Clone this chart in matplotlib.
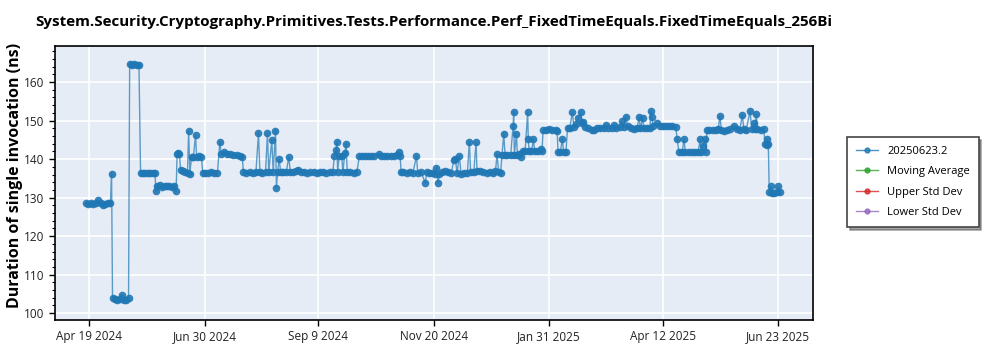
import numpy as np
import pandas as pd
import matplotlib
matplotlib.use("Agg")
import matplotlib.pyplot as plt
from matplotlib.ticker import MultipleLocator

# run dates as day offsets from the first tick date, and the measured durations (ns)
start_date = "2024-04-19"
day_offsets = [
    -1.8, -0.5, 1, 2.5, 4, 5.6, 7, 8.7, 10, 11.5, 13.2, 13.9,
    14.5, 16, 17.5, 19, 20.2, 21.5, 23, 24.5,
    25.2, 26.5, 28, 29.5, 31,
    32, 33.5, 35, 36.5, 38, 39.5, 41,
    41.6, 42.5, 44, 45.5, 47, 48.5, 50, 51.5, 53, 54.2,
    54.8, 55.5, 56.3, 57, 58.5, 60, 61.3, 62, 62.8,
    63.8, 65, 66.3, 67, 68.5, 70,
    70.8, 72, 74, 76, 78, 80, 81.5,
    82.3, 84.2, 86, 88, 90, 92, 94, 95.5,
    96.2, 98, 100, 102, 104, 105.6, 106.5, 108, 110, 111.2, 112, 113.9, 114.8,
    116.2, 116.8, 117.5, 118.5, 119.5, 121, 123, 124.5, 125.5, 127, 129, 130.4,
    132, 134, 136, 138, 140, 142, 144, 146, 148, 150, 152,
    153, 154, 154.5, 155, 156, 157.5, 158.3, 159.5, 160.3, 161, 163, 165, 167,
    168.6, 170, 172, 174, 176, 178, 180.7, 182, 184, 186, 188, 190, 192, 193.2, 194,
    194.6, 196, 198, 200, 202, 204.2, 205, 207, 209.8, 210.5, 212, 214, 215.5,
    216.7, 217.7, 218.5, 220, 222, 224, 226, 227.5, 228.5, 229.5, 231, 232,
    234, 236, 237.2, 238, 240, 241.4, 242, 244, 246, 248, 250, 252, 253.5,
    254.5, 255.5, 256.7,
    257.6, 258.7, 259.5, 261, 263, 264.5, 264.9, 265.3, 266.6, 267.2, 268.5, 269.5,
    270.5, 272, 273.6, 274, 274.5, 276, 277.2, 278, 280, 281.9, 282.6,
    283.2, 285, 287, 289, 291, 292,
    292.6, 294, 295.3, 296, 297.5,
    298.5, 300, 301.5, 302.5, 304, 305.3, 306.7, 307.5, 308.4, 309.5, 311,
    313.6, 315, 317, 319, 321, 322.5, 324, 326, 327.5, 329, 331, 332.3, 333.5,
    334.8, 336, 338, 340, 342, 343.1, 344, 345.4, 346, 348, 350, 350.4, 351,
    352, 354.1, 356, 358, 360, 362, 364, 366,
    367, 368, 370, 371.2, 372, 374, 376, 378, 380, 381.2, 382, 383.2, 384.3, 385,
    385.5, 387, 389, 391, 392.5, 393.6, 394.5, 396, 398, 400, 402.4, 404, 406,
    407.6, 408.5, 410, 412.4, 413.5, 414.8, 415.5, 416.3, 417, 419, 421,
    421.8, 423, 423.2, 423.8,
    424.4, 425.3, 426, 427.5, 429, 430, 431,
]
durations = [
    128.5, 128.4, 128.5, 128.4, 128.6, 129.3, 128.5, 128.1, 128.4, 128.5, 128.6, 136.2,
    104.0, 103.6, 103.4, 103.8, 104.8, 103.3, 103.5, 103.9,
    164.8, 164.5, 164.6, 164.4, 164.5,
    136.4, 136.5, 136.4, 136.3, 136.4, 136.4, 136.5,
    131.6, 133.0, 133.3, 132.8, 133.1, 132.9, 132.9, 132.8, 132.9, 131.6,
    141.3, 141.5, 141.2, 137.1, 136.9, 136.7, 136.4, 147.4, 136.2,
    140.6, 140.6, 146.2, 140.6, 140.7, 140.5,
    136.5, 136.4, 136.4, 136.6, 136.4, 136.5, 144.5,
    141.2, 141.9, 141.4, 141.2, 141.1, 141.0, 140.8, 140.5,
    136.6, 136.5, 136.6, 136.5, 136.6, 146.7, 136.6, 136.5, 136.6, 146.7, 136.6, 144.9, 136.6,
    147.4, 132.6, 136.6, 139.9, 136.6, 136.6, 136.7, 140.6, 136.6, 136.6, 136.8, 137.3,
    136.6, 136.6, 136.5, 136.6, 136.6, 136.5, 136.6, 136.6, 136.5, 136.6, 136.6,
    140.9, 142.3, 144.5, 136.6, 140.9, 140.9, 136.6, 141.6, 144.0, 136.6, 136.6, 136.5, 136.6,
    140.9, 140.9, 140.8, 140.9, 140.9, 140.8, 141.3, 140.9, 140.8, 140.9, 140.9, 140.8, 141.0, 141.9, 140.9,
    136.7, 136.6, 136.3, 136.7, 136.5, 140.7, 136.5, 136.6, 133.8, 136.6, 136.5, 136.3, 136.2,
    137.8, 133.8, 136.2, 136.6, 136.8, 136.7, 136.4, 139.8, 140.1, 136.4, 140.9, 136.2,
    136.3, 136.5, 144.4, 136.6, 136.7, 144.4, 136.8, 136.8, 136.6, 136.5, 136.6, 136.4, 136.8,
    141.3, 136.6, 136.4,
    141.0, 146.6, 141.0, 141.0, 141.1, 148.5, 152.3, 141.0, 146.4, 141.0, 141.2, 140.6,
    142.0, 142.0, 152.1, 145.1, 142.0, 142.0, 145.1, 142.0, 142.1, 142.6, 142.0,
    147.6, 147.6, 147.7, 147.6, 147.6, 147.2,
    141.8, 141.8, 145.3, 141.8, 141.8,
    148.2, 148.2, 152.2, 148.3, 149.0, 150.7, 152.2, 149.5, 149.6, 148.3, 148.0,
    147.6, 147.6, 148.0, 148.2, 148.2, 148.9, 148.0, 148.2, 148.9, 148.1, 148.3, 149.8, 148.4,
    151.0, 148.6, 148.2, 147.8, 148.0, 151.0, 148.0, 150.7, 148.0, 148.1, 148.2, 152.4, 150.9,
    148.6, 149.3, 148.7, 148.6, 148.6, 148.5, 148.6, 148.4,
    145.1, 141.8, 141.8, 145.1, 141.8, 141.8, 141.8, 141.8, 141.8, 145.1, 141.8, 143.5, 145.1, 141.8,
    147.6, 147.6, 147.5, 147.6, 147.7, 151.2, 147.6, 147.4, 147.6, 147.7, 148.7, 147.8, 147.6,
    151.4, 147.8, 147.6, 152.4, 147.8, 149.3, 147.8, 151.7, 147.8, 147.6, 147.7,
    143.8, 143.6, 145.1, 143.8,
    131.4, 132.9, 131.3, 131.3, 131.4, 132.9, 131.5,
]
tick_labels = ["Apr 19 2024", "Jun 30 2024", "Sep 9 2024", "Nov 20 2024",
               "Jan 31 2025", "Apr 12 2025", "Jun 23 2025"]
series_names = ["20250623.2", "Moving Average", "Upper Std Dev", "Lower Std Dev"]
series_colors = ["#1f77b4", "#2ca02c", "#d62728", "#9467bd"]

title = "System.Security.Cryptography.Primitives.Tests.Performance.Perf_FixedTimeEquals.FixedTimeEquals_256Bi"

plt.rcParams["font.family"] = ["Open Sans", "DejaVu Sans"]

base = pd.Timestamp(start_date)
dates = base + pd.to_timedelta(np.array(day_offsets), unit="D")
tick_dates = pd.to_datetime(tick_labels, format="%b %d %Y")

fig = plt.figure(figsize=(10, 3.5), dpi=100)
ax = fig.add_axes([0.055, 0.086, 0.758, 0.783])
ax.set_facecolor("#E5ECF6")

ax.plot(dates, durations, color=series_colors[0], linewidth=1.0, alpha=0.7, zorder=3)
ax.plot(dates, durations, color=series_colors[0], linestyle="none", alpha=0.9,
        marker="o", markersize=5.5, markeredgewidth=0, zorder=4)

# empty series, shown only in the legend
handles = []
for name, col in zip(series_names, series_colors):
    h, = ax.plot([], [], color=col, linewidth=1, marker="o", markersize=3.5,
                 alpha=0.8, label=name)
    handles.append(h)

ax.set_xticks(tick_dates)
ax.set_xticklabels(tick_labels, fontsize=8.5, color="#222222")
ax.set_xlim(base - pd.Timedelta(days=21.4), base + pd.Timedelta(days=451.7))
ax.set_ylim(98.26, 169.4)
ax.yaxis.set_major_locator(MultipleLocator(10))
ax.yaxis.set_minor_locator(MultipleLocator(2))
ax.tick_params(axis="y", labelsize=8.5, labelcolor="#222222")
ax.tick_params(axis="both", which="major", length=4, width=1)
ax.tick_params(axis="y", which="minor", length=2, width=0.8)

ax.grid(True, color="white", linewidth=1.2)
ax.set_axisbelow(True)
for s in ax.spines.values():
    s.set_color("black")
    s.set_linewidth(1.2)

fig.text(0.015, 0.499, "Duration of single invocation (ns)", rotation=90,
         ha="center", va="center", fontsize=11.5, fontweight="bold")
ax.set_title(title, fontsize=10.9, fontweight="bold", pad=14)

leg = ax.legend(handles=handles, loc="center left", bbox_to_anchor=(0.847, 0.48),
                bbox_transform=fig.transFigure, borderaxespad=0, fontsize=8,
                frameon=True, fancybox=False, shadow=True, edgecolor="#444444",
                handlelength=2.0, borderpad=0.8, labelspacing=0.85)
leg.get_frame().set_linewidth(1.2)

fig.savefig("out.png", dpi=100)
